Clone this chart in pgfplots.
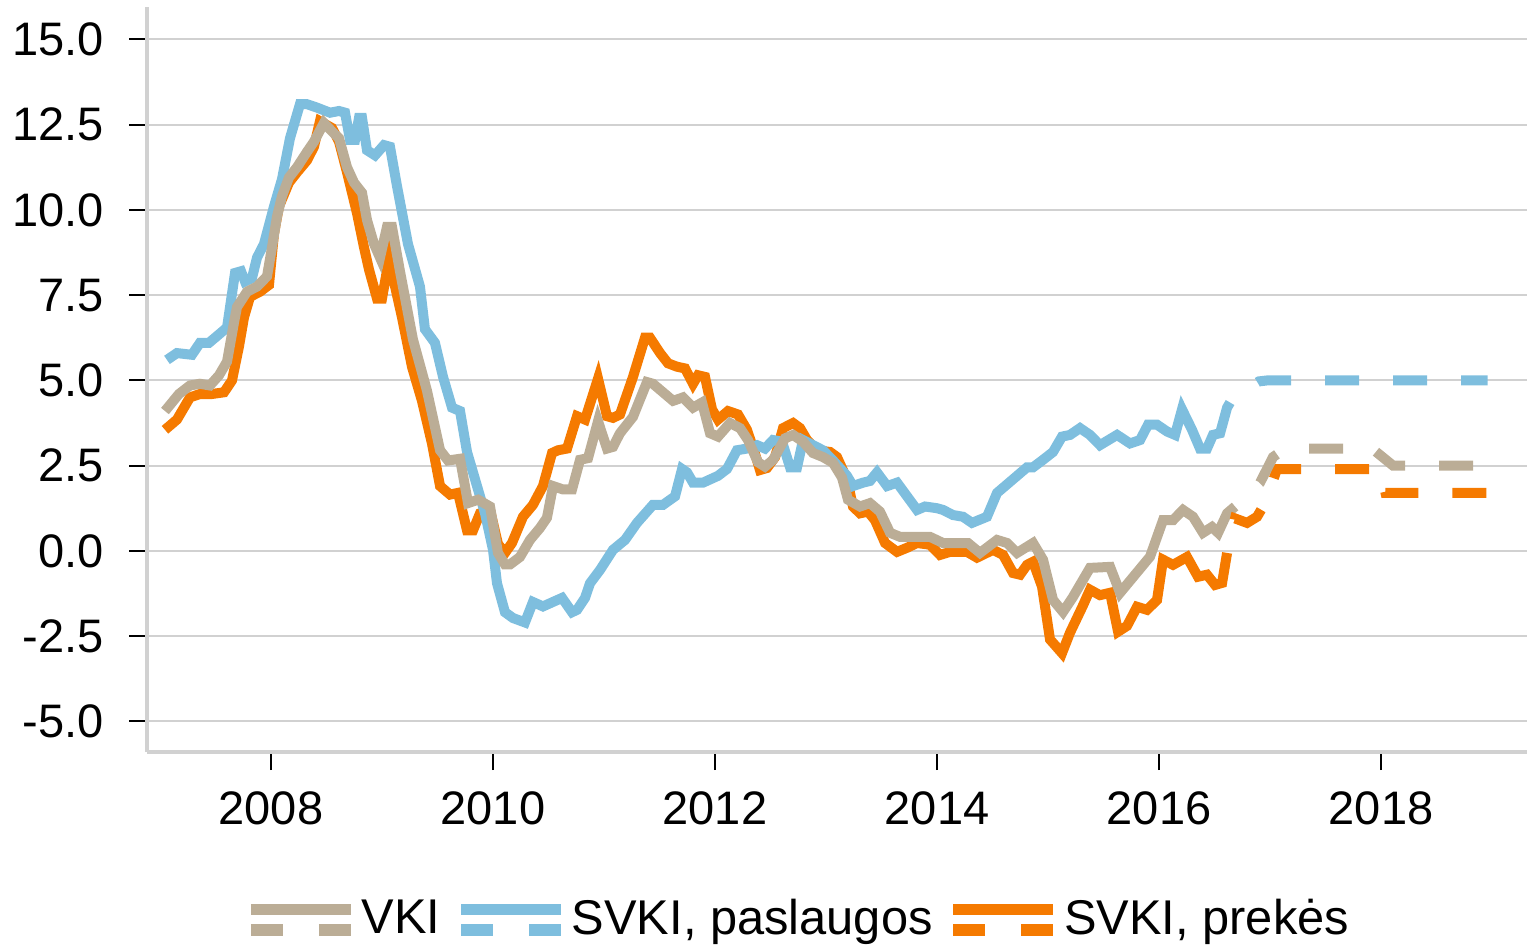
\documentclass[border=0pt]{standalone}
\usepackage{fontspec}
\setmainfont{Liberation Sans}
\usepackage{pgfplots}
\pgfplotsset{compat=1.18}
\definecolor{vki}{RGB}{187,173,150}
\definecolor{pasl}{RGB}{126,190,222}
\definecolor{prek}{RGB}{245,122,0}
\begin{document}
\begin{tikzpicture}
\useasboundingbox (-36.75pt,-48.25pt) rectangle (345.5pt,188pt);
\begin{axis}[
  at={(0,0)}, anchor=south west,
  scale only axis, width=345pt, height=186.25pt,
  xmin=2006.883, xmax=2019.315, ymin=-5.9, ymax=15.95,
  axis x line*=bottom, axis y line*=left,
  axis line style={draw=black!18, line width=1pt},
  xtick={2008,2010,...,2018},
  ytick={-5,-2.5,...,15},
  minor tick num=0,
  ymajorgrids, major grid style={draw=black!18, line width=0.5pt},
  tick align=outside, major tick length=4.5pt,
  tick style={black, line width=0.5pt},
  /pgf/number format/assume math mode=true,
  ticklabel style={font=\fontsize{11.75}{14}\selectfont},
  xticklabel style={/pgf/number format/1000 sep={}, yshift=-2pt},
  yticklabel style={/pgf/number format/.cd, fixed, fixed zerofill, precision=1, /tikz/xshift=-2.8pt},
  legend columns=-1,
  legend style={at={(0.473,-0.225)}, anchor=center, draw=none, fill=none,
    font=\fontsize{12.2}{14}\selectfont,
    /tikz/every even column/.append style={column sep=2.5pt},
    nodes={inner sep=1.3pt}},
  legend image code/.code={
    \draw[#1,solid,line width=2.8pt] (0pt,2.6pt) -- (25pt,2.6pt);
    \draw[#1,line width=2.8pt,dash pattern=on 8pt off 9pt] (0pt,-2.6pt) -- (25pt,-2.6pt);},
  every axis plot/.append style={line width=2.5pt},
]
% SVKI, prekes (orange) - actual
\addplot[prek, forget plot] coordinates {
(2007.045,3.55)(2007.153,3.85)(2007.270,4.5)(2007.360,4.6)(2007.468,4.6)(2007.577,4.65)
(2007.649,5.0)(2007.712,6.0)(2007.757,6.85)(2007.811,7.45)(2007.901,7.6)(2007.982,7.8)
(2008.027,9.3)(2008.072,10.1)(2008.162,10.8)(2008.234,11.1)(2008.324,11.45)(2008.387,11.85)
(2008.441,12.6)(2008.550,12.4)(2008.613,12.0)(2008.685,11.1)(2008.775,9.9)(2008.838,8.9)
(2008.883,8.25)(2008.955,7.4)(2009.000,7.4)(2009.063,8.55)(2009.180,6.85)(2009.270,5.4)
(2009.360,4.4)(2009.450,3.15)(2009.523,1.9)(2009.613,1.65)(2009.685,1.7)(2009.766,0.6)
(2009.820,0.6)(2009.883,1.1)(2009.973,1.2)(2010.045,0.2)(2010.108,-0.06)(2010.171,0.23)
(2010.270,1.0)(2010.360,1.35)(2010.450,1.9)(2010.532,2.87)(2010.586,2.95)(2010.667,3.0)
(2010.757,3.95)(2010.829,3.85)(2010.946,5.05)(2011.027,3.95)(2011.081,3.9)(2011.144,4.0)
(2011.261,5.1)(2011.369,6.25)(2011.414,6.25)(2011.505,5.8)(2011.577,5.5)(2011.658,5.4)
(2011.730,5.35)(2011.802,4.9)(2011.847,5.15)(2011.910,5.1)(2011.973,4.15)(2012.027,3.85)
(2012.117,4.1)(2012.207,4.0)(2012.288,3.55)(2012.360,2.85)(2012.405,2.37)(2012.468,2.43)
(2012.541,2.75)(2012.613,3.6)(2012.703,3.75)(2012.766,3.6)(2012.829,3.25)(2012.919,2.95)
(2013.036,2.9)(2013.099,2.75)(2013.189,2.1)(2013.243,1.3)(2013.306,1.1)(2013.378,1.15)
(2013.441,0.9)(2013.532,0.23)(2013.640,-0.03)(2013.730,0.09)(2013.820,0.23)(2013.937,0.18)
(2014.027,-0.12)(2014.117,-0.03)(2014.270,-0.03)(2014.360,-0.2)(2014.505,0.03)(2014.595,-0.12)
(2014.685,-0.65)(2014.748,-0.7)(2014.811,-0.41)(2014.865,-0.32)(2014.946,-1.05)(2015.018,-2.6)
(2015.126,-3.0)(2015.198,-2.4)(2015.315,-1.6)(2015.378,-1.14)(2015.468,-1.3)(2015.559,-1.23)
(2015.631,-2.37)(2015.712,-2.2)(2015.802,-1.64)(2015.892,-1.73)(2015.982,-1.44)(2016.036,-0.26)
(2016.126,-0.41)(2016.252,-0.18)(2016.351,-0.76)(2016.432,-0.7)(2016.505,-1.0)(2016.568,-0.94)
(2016.613,-0.06)
};
% SVKI, paslaugos (blue) - actual
\addplot[pasl, forget plot] coordinates {
(2007.063,5.6)(2007.153,5.8)(2007.288,5.75)(2007.360,6.1)(2007.441,6.1)(2007.514,6.3)
(2007.604,6.55)(2007.676,8.15)(2007.730,8.2)(2007.766,7.9)(2007.829,8.0)(2007.874,8.6)
(2007.937,9.0)(2008.027,10.1)(2008.099,10.9)(2008.171,12.1)(2008.261,13.1)(2008.324,13.1)
(2008.414,13.0)(2008.532,12.85)(2008.613,12.9)(2008.667,12.85)(2008.712,12.05)(2008.757,12.05)
(2008.793,12.7)(2008.820,12.7)(2008.865,11.75)(2008.937,11.6)(2009.018,11.9)(2009.072,11.85)
(2009.135,10.7)(2009.234,9.0)(2009.342,7.75)(2009.387,6.5)(2009.477,6.1)(2009.550,5.1)
(2009.631,4.2)(2009.703,4.1)(2009.766,2.9)(2009.856,1.9)(2009.928,1.1)(2010.000,0.03)
(2010.036,-0.95)(2010.108,-1.8)(2010.180,-1.97)(2010.288,-2.1)(2010.360,-1.5)(2010.450,-1.63)
(2010.622,-1.38)(2010.712,-1.8)(2010.757,-1.73)(2010.829,-1.38)(2010.874,-0.95)(2010.964,-0.56)
(2011.081,0.03)(2011.189,0.32)(2011.297,0.82)(2011.441,1.35)(2011.532,1.35)(2011.640,1.6)
(2011.703,2.4)(2011.748,2.3)(2011.802,2.0)(2011.892,2.0)(2012.027,2.2)(2012.108,2.4)
(2012.198,2.95)(2012.288,3.0)(2012.378,3.1)(2012.450,3.0)(2012.523,3.25)(2012.604,3.2)
(2012.676,2.45)(2012.739,2.45)(2012.793,3.25)(2012.883,3.1)(2012.973,2.95)(2013.063,2.65)
(2013.189,2.2)(2013.243,1.9)(2013.333,2.0)(2013.396,2.05)(2013.459,2.3)(2013.550,1.9)
(2013.640,2.0)(2013.730,1.6)(2013.820,1.2)(2013.892,1.3)(2014.000,1.25)(2014.054,1.2)
(2014.144,1.05)(2014.234,1.0)(2014.315,0.82)(2014.450,1.0)(2014.541,1.7)(2014.595,1.85)
(2014.721,2.2)(2014.811,2.45)(2014.865,2.45)(2014.955,2.67)(2015.045,2.9)(2015.126,3.35)
(2015.198,3.4)(2015.288,3.6)(2015.378,3.4)(2015.468,3.1)(2015.622,3.4)(2015.739,3.15)
(2015.829,3.25)(2015.901,3.7)(2015.982,3.7)(2016.072,3.5)(2016.144,3.4)(2016.207,4.15)
(2016.297,3.55)(2016.369,3.0)(2016.432,3.0)(2016.486,3.4)(2016.550,3.45)(2016.613,4.2)
(2016.640,4.35)
};
% VKI (tan) - actual
\addplot[vki, forget plot] coordinates {
(2007.045,4.1)(2007.171,4.6)(2007.270,4.85)(2007.360,4.9)(2007.450,4.85)(2007.532,5.15)
(2007.604,5.55)(2007.667,6.7)(2007.694,7.15)(2007.784,7.6)(2007.874,7.75)(2007.964,8.05)
(2008.009,8.9)(2008.054,9.8)(2008.099,10.4)(2008.162,10.95)(2008.234,11.25)(2008.324,11.7)
(2008.387,12.0)(2008.477,12.55)(2008.550,12.3)(2008.613,12.1)(2008.685,11.25)(2008.748,10.8)
(2008.820,10.5)(2008.865,9.7)(2008.928,9.0)(2008.982,8.6)(2009.045,9.5)(2009.090,9.5)
(2009.162,8.2)(2009.279,6.2)(2009.405,4.7)(2009.523,2.95)(2009.595,2.65)(2009.703,2.7)
(2009.775,1.4)(2009.865,1.5)(2009.973,1.3)(2010.045,-0.06)(2010.108,-0.4)(2010.153,-0.4)
(2010.243,-0.18)(2010.333,0.32)(2010.423,0.67)(2010.486,0.97)(2010.541,1.9)(2010.631,1.8)
(2010.712,1.8)(2010.784,2.67)(2010.856,2.72)(2010.946,3.8)(2011.027,3.0)(2011.081,3.05)
(2011.144,3.45)(2011.261,3.93)(2011.387,4.95)(2011.441,4.9)(2011.622,4.4)(2011.712,4.5)
(2011.802,4.2)(2011.883,4.35)(2011.955,3.45)(2012.027,3.35)(2012.135,3.75)(2012.225,3.6)
(2012.297,3.25)(2012.387,2.6)(2012.450,2.47)(2012.523,2.67)(2012.631,3.3)(2012.703,3.4)
(2012.793,3.2)(2012.883,2.87)(2012.973,2.75)(2013.063,2.58)(2013.144,2.15)(2013.198,1.5)
(2013.306,1.3)(2013.396,1.4)(2013.486,1.15)(2013.577,0.53)(2013.667,0.41)(2013.937,0.41)
(2014.054,0.23)(2014.279,0.23)(2014.387,-0.06)(2014.541,0.32)(2014.631,0.23)(2014.721,-0.06)
(2014.865,0.23)(2014.955,-0.26)(2015.045,-1.44)(2015.135,-1.79)(2015.225,-1.35)(2015.378,-0.5)
(2015.559,-0.47)(2015.649,-1.23)(2015.919,-0.17)(2016.036,0.9)(2016.126,0.9)(2016.216,1.2)
(2016.306,1.0)(2016.396,0.53)(2016.477,0.7)(2016.532,0.53)(2016.613,1.1)(2016.685,1.3)
};
% forecasts (dashed)
\addplot[prek, dash pattern=on 8.5pt off 8.5pt, dash phase=8.5pt, forget plot] coordinates {
(2016.613,-0.06)(2016.685,0.95)(2016.793,0.82)(2016.883,1.0)(2016.955,1.4)(2017.063,2.4)
(2017.990,2.4)(2018.040,1.7)(2018.960,1.7)
};
\addplot[pasl, dash pattern=on 8.5pt off 8.5pt, dash phase=8.5pt, forget plot] coordinates {
(2016.640,4.35)(2016.840,4.85)(2016.900,4.97)(2016.980,5.0)(2018.960,5.0)
};
\addplot[vki, dash pattern=on 8.5pt off 8.5pt, dash phase=8.5pt, forget plot] coordinates {
(2016.685,1.3)(2016.910,2.0)(2017.027,2.75)(2017.135,3.0)(2017.919,3.0)(2018.108,2.5)(2018.960,2.5)
};
% legend entries
\addlegendimage{vki}
\addlegendentry{VKI}
\addlegendimage{pasl}
\addlegendentry{SVKI, paslaugos}
\addlegendimage{prek}
\addlegendentry{SVKI, prekės}
\end{axis}
\end{tikzpicture}
\end{document}
